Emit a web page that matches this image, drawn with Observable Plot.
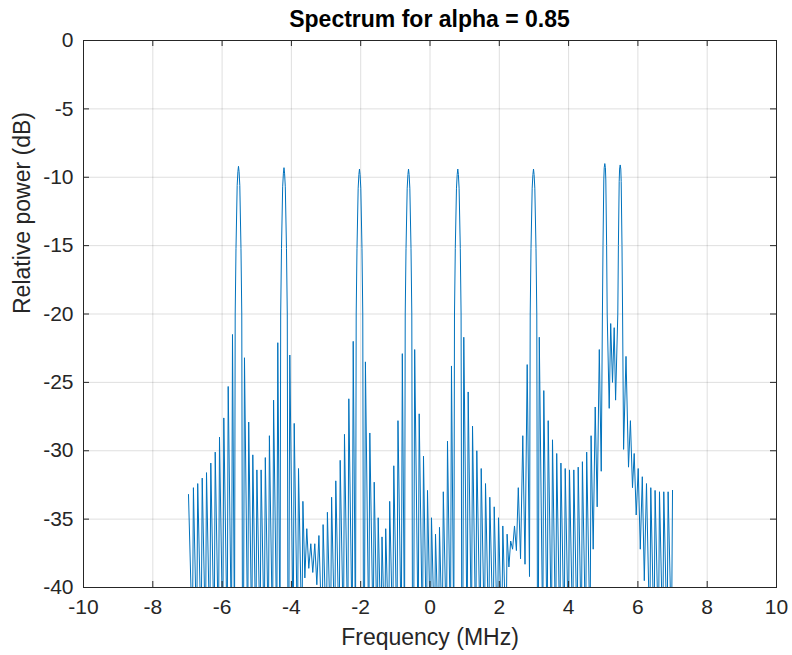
<!DOCTYPE html>
<html><head><meta charset="utf-8">
<script src="https://cdn.jsdelivr.net/npm/d3@7"></script>
<script src="https://cdn.jsdelivr.net/npm/@observablehq/plot@0.6"></script>
<style>
body{margin:0;background:#fff;}
#wrap{position:relative;width:792px;height:655px;font-family:"Liberation Sans",Arial,Helvetica,sans-serif;color:#000;}
#title{position:absolute;left:83px;top:6px;width:693px;text-align:center;font-size:23px;line-height:27px;font-weight:bold;z-index:2;}
</style></head><body>
<div id="wrap"><div id="title">Spectrum for alpha = 0.85</div><div id="chart"></div></div>
<script>
// Peaks of every lobe (MHz, dB), main lobes included
const lobeF = [-6.970,-6.828,-6.704,-6.574,-6.450,-6.326,-6.199,-6.075,-5.951,-5.824,-5.700,-5.527,-5.354,-5.232,-5.114,-4.996,-4.874,-4.753,-4.635,-4.514,-4.393,-4.214,-4.046,-3.919,-3.795,-3.668,-3.556,-3.440,-3.325,-3.206,-3.085,-2.961,-2.840,-2.719,-2.592,-2.468,-2.343,-2.216,-2.035,-1.864,-1.737,-1.610,-1.495,-1.385,-1.278,-1.163,-1.045,-0.924,-0.799,-0.620,-0.442,-0.312,-0.188,-0.072,0.043,0.159,0.274,0.384,0.505,0.620,0.802,0.975,1.102,1.227,1.351,1.478,1.602,1.726,1.853,1.977,2.101,2.225,2.329,2.439,2.548,2.678,2.805,2.987,3.154,3.284,3.411,3.535,3.657,3.778,3.902,4.026,4.150,4.277,4.398,4.522,4.649,4.768,4.886,5.045,5.215,5.316,5.489,5.657,5.784,5.893,6.009,6.127,6.248,6.372,6.496,6.623,6.747,6.872,6.999];
const lobeDb = [-33.2,-32.7,-32.4,-32.0,-31.6,-30.9,-30.1,-29.0,-27.6,-25.3,-21.5,-9.2,-23.2,-27.9,-30.3,-31.4,-31.4,-30.5,-28.9,-26.3,-22.1,-9.3,-23.0,-28.0,-31.3,-33.7,-35.7,-36.8,-36.8,-36.2,-35.4,-34.5,-33.4,-32.2,-30.7,-28.8,-26.2,-22.0,-9.4,-23.5,-28.7,-32.3,-34.9,-36.3,-35.7,-33.7,-31.1,-27.8,-22.9,-9.4,-22.6,-27.3,-30.4,-32.9,-34.9,-36.1,-35.6,-33.0,-29.3,-23.8,-9.4,-21.7,-25.7,-28.2,-30.0,-31.3,-32.4,-33.4,-34.1,-34.9,-35.5,-36.1,-36.6,-35.5,-32.7,-28.9,-23.7,-9.4,-21.7,-25.6,-27.8,-29.2,-30.2,-30.9,-31.3,-31.4,-31.4,-31.2,-30.8,-30.1,-28.9,-26.8,-22.6,-9.0,-20.7,-21.0,-9.1,-23.1,-27.8,-30.2,-31.3,-31.9,-32.4,-32.7,-32.9,-33.0,-33.0,-33.0,-32.9];

// Flanks of the main lobes (MHz, dB)
const flankF = [-5.642,-5.622,-5.599,-5.565,-5.544,-5.510,-5.489,-5.455,-5.432,-5.412,
  -4.329,-4.309,-4.286,-4.252,-4.231,-4.197,-4.176,-4.142,-4.119,-4.099,
  -2.150,-2.130,-2.107,-2.073,-2.052,-2.018,-1.997,-1.963,-1.940,-1.920,
  -0.735,-0.715,-0.692,-0.658,-0.637,-0.603,-0.582,-0.548,-0.525,-0.505,
  0.687,0.707,0.730,0.764,0.785,0.819,0.840,0.874,0.897,0.917,
  2.872,2.892,2.915,2.949,2.970,3.004,3.025,3.059,3.082,3.102,
  4.976,4.993,5.016,5.028,5.062,5.074,5.097,5.114,
  5.420,5.437,5.460,5.472,5.506,5.518,5.541,5.558];
const flankDb = [-44,-20,-15.2,-10.6,-9.6,-9.6,-10.6,-15.2,-20,-44,
  -44,-20,-15.2,-10.7,-9.7,-9.7,-10.7,-15.2,-20,-44,
  -44,-20,-15.2,-10.8,-9.8,-9.8,-10.8,-15.2,-20,-44,
  -44,-20,-15.2,-10.8,-9.8,-9.8,-10.8,-15.2,-20,-44,
  -44,-20,-15.2,-10.8,-9.8,-9.8,-10.8,-15.2,-20,-44,
  -39.2,-20,-15.2,-10.8,-9.8,-9.8,-10.8,-15.2,-20,-44,
  -20,-15,-10.2,-9.3,-9.3,-10.2,-15,-20,
  -20,-15,-10.3,-9.4,-9.4,-10.3,-15,-20];

// Nulls that fall below the axis floor (drawn at DEEP, clipped away)
const DEEP = -44;
const deepNullF = [-6.857,-6.733,-6.603,-6.479,-6.355,-6.228,-6.104,-5.980,-5.853,-5.729,
  -5.383,-5.261,-5.143,-5.025,-4.903,-4.782,-4.664,-4.543,-4.422,
  -4.075,-3.948,-3.824,-3.697,-3.114,-2.990,-2.869,-2.748,-2.621,-2.497,-2.372,-2.245,
  -1.893,-1.766,-1.639,-1.524,-1.414,-1.307,-1.192,-1.074,-0.953,-0.828,
  -0.471,-0.341,-0.217,-0.101,0.014,0.130,0.245,0.355,0.476,0.591,
  0.946,1.073,1.198,1.322,1.449,1.573,1.697,1.824,1.948,2.072,2.196,
  3.125,3.255,3.382,3.506,3.628,3.749,3.873,3.997,4.121,4.248,4.369,4.493,4.620,
  6.343,6.467,6.594,6.718,6.843,6.970];
// Nulls visible above the floor
const shallowNullF = [-3.612,-3.498,-3.383,-3.266,2.277,2.384,2.494,2.613,2.742,4.710,4.825,4.942,5.172,5.267,5.356,5.587,5.729,5.844,5.951,6.069,6.185];
const shallowNullDb = [-39.3,-38.6,-38.9,-39.8,-38.5,-37.2,-37.3,-37.9,-38.3,-37.2,-34.1,-31.5,-26.9,-25.0,-26.3,-29.9,-31.2,-32.7,-34.7,-37.2,-39.5];

const xTicks = [-10,-8,-6,-4,-2,0,2,4,6,8,10];
const yTicks = [0,-5,-10,-15,-20,-25,-30,-35,-40];

const pts = [];
lobeF.forEach((f,i)=>pts.push({f, db: lobeDb[i]}));
flankF.forEach((f,i)=>pts.push({f, db: flankDb[i]}));
deepNullF.forEach(f=>pts.push({f, db: DEEP}));
shallowNullF.forEach((f,i)=>pts.push({f, db: shallowNullDb[i]}));
pts.sort((a,b)=>a.f-b.f);

const W = 792, H = 655, ML = 83, MR = 16, MT = 40, MB = 68;
const PW = W-ML-MR, PH = H-MT-MB;
const ink = "#262626";

const chart = Plot.plot({
  width: W, height: H,
  marginLeft: ML, marginRight: MR, marginTop: MT, marginBottom: MB,
  style: {fontFamily: '"Liberation Sans", Arial, Helvetica, sans-serif', background: "#fff", color: ink},
  x: {domain: [-10, 10]},
  y: {domain: [-40, 0]},
  marks: [
    Plot.ruleX(xTicks, {x: d=>d, stroke: ink, strokeOpacity: 0.15}),
    Plot.ruleY(yTicks, {y: d=>d, stroke: ink, strokeOpacity: 0.15}),
    Plot.line(pts, {x: "f", y: "db", stroke: "#0072BD", strokeWidth: 1, clip: true}),
    Plot.ruleX(xTicks, {x: d=>d, insetTop: PH-6, stroke: ink}),
    Plot.ruleX(xTicks, {x: d=>d, insetBottom: PH-6, stroke: ink}),
    Plot.ruleY(yTicks, {y: d=>d, insetRight: PW-6, stroke: ink}),
    Plot.ruleY(yTicks, {y: d=>d, insetLeft: PW-6, stroke: ink}),
    Plot.frame({stroke: ink}),
    Plot.axisX(xTicks, {tickSize: 0, tickPadding: 12, tickFormat: d=>String(d), fontSize: 21, label: null, fill: ink}),
    Plot.axisY(yTicks, {tickSize: 0, tickPadding: 10, tickFormat: d=>String(d), fontSize: 21, label: null, fill: ink}),
    Plot.text(["Frequency (MHz)"], {frameAnchor: "bottom", dy: 57, fontSize: 23, fill: ink}),
    Plot.text(["Relative power (dB)"], {frameAnchor: "left", dx: -61, rotate: -90, fontSize: 23, fill: ink})
  ]
});
document.getElementById("chart").appendChild(chart);
</script>
</body></html>
